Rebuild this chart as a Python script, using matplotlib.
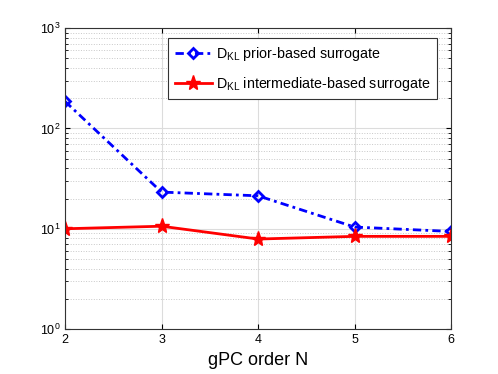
import matplotlib
matplotlib.use('Agg')
import matplotlib.pyplot as plt

# gPC order and KL divergences
orders = [2, 3, 4, 5, 6]
dkl_prior = [186, 23.2, 21.3, 10.4, 9.4]
dkl_inter = [10.0, 10.6, 7.9, 8.4, 8.4]

plt.rcParams['font.family'] = 'Liberation Sans'
plt.rcParams['mathtext.fontset'] = 'custom'
plt.rcParams['mathtext.rm'] = 'Liberation Sans'
fig = plt.figure(figsize=(4.98, 3.74), dpi=100)
ax = fig.add_axes([0.1305, 0.12, 0.7755, 0.805])

ax.semilogy(orders, dkl_prior, color='blue', linestyle=(0, (3, 1.5, 1, 1.5)), linewidth=2,
            marker='D', markersize=5, markerfacecolor='none', markeredgewidth=2,
            label=r'D$_{\mathrm{KL}}$ prior-based surrogate')
ax.semilogy(orders, dkl_inter, color='red', linestyle='-', linewidth=2,
            marker='*', markersize=11,
            label=r'D$_{\mathrm{KL}}$ intermediate-based surrogate')

ax.set_xlim(2, 6)
ax.set_ylim(1, 1000)
ax.set_xticks(orders)
ax.grid(True, which='major', color='#dcdcdc', linewidth=0.8)
ax.grid(True, which='minor', color='#c8c8c8', linestyle=':', linewidth=0.7)
ax.tick_params(which='both', direction='in', top=True, right=True, labelsize=9)
for s in ax.spines.values():
    s.set_color('#333333')
ax.set_xlabel('gPC order N', fontsize=13)

leg = ax.legend(loc='upper right', bbox_to_anchor=(0.982, 0.99), fontsize=10.3,
                fancybox=False, framealpha=1, edgecolor='#333333',
                handlelength=2.6, handletextpad=0.3, borderpad=0.45, labelspacing=0.85)
leg.get_frame().set_linewidth(0.8)

fig.savefig('out.png', dpi=100)
